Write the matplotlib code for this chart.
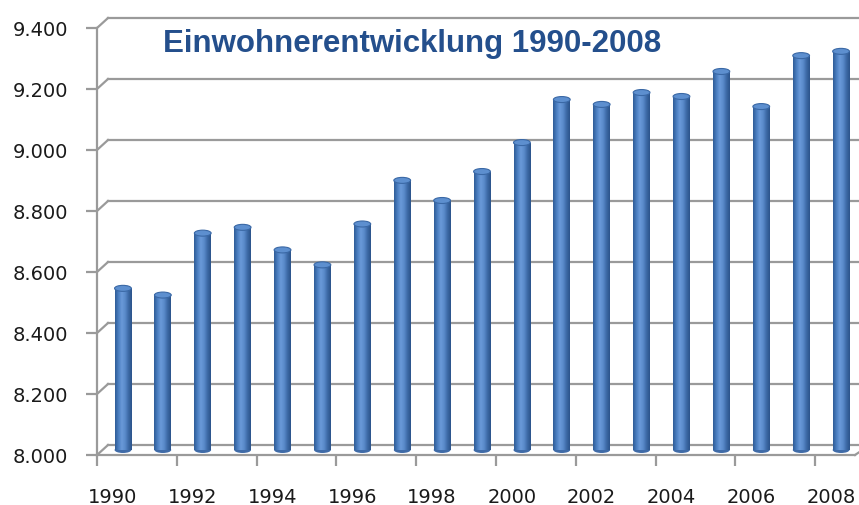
import matplotlib
matplotlib.use('Agg')
import matplotlib.pyplot as plt
import matplotlib.transforms as mtransforms
from matplotlib.colors import LinearSegmentedColormap
from matplotlib.patches import Ellipse
import numpy as np

years = list(range(1990, 2009))
einwohner = [8530, 8508, 8711, 8730, 8656, 8607, 8741, 8884, 8818, 8913,
             9008, 9149, 9133, 9172, 9159, 9241, 9126, 9293, 9307]
y_ticks = [8000, 8200, 8400, 8600, 8800, 9000, 9200, 9400]
title = 'Einwohnerentwicklung 1990-2008'

DPI = 100
fig = plt.figure(figsize=(8.59, 5.06), dpi=DPI)
ax = fig.add_axes([97 / 859, 50 / 506, 758 / 859, 427 / 506])

grid_col = '#9a9a9a'
x = np.arange(len(years))
ax.set_xlim(-0.5, len(years) - 0.5)
ax.set_ylim(8000, 9400)

# 3D look: back wall shifted up/right, bars at middle depth
back = ax.transData + mtransforms.ScaledTranslation(11 / DPI, 10 / DPI, fig.dpi_scale_trans)
mid = ax.transData + mtransforms.ScaledTranslation(6 / DPI, 5 / DPI, fig.dpi_scale_trans)

# back wall gridlines + diagonals to the left axis
for v in y_ticks:
    ax.plot([-0.5, 19.5], [v, v], color=grid_col, lw=1.6, transform=back, clip_on=False, zorder=1)
    p0 = ax.transData.transform((-0.5, v))
    p1 = back.transform((-0.5, v))
    ax.plot([p0[0], p1[0]], [p0[1], p1[1]], color=grid_col, lw=1.6,
            transform=None, clip_on=False, zorder=1)
# floor right edge
p0 = ax.transData.transform((18.5, 8000))
p1 = back.transform((18.5, 8000))
ax.plot([p0[0], p1[0] + 4], [p0[1], p1[1]], color=grid_col, lw=1.6, transform=None, clip_on=False)

# cylinder bars
cmap = LinearSegmentedColormap.from_list('cyl', ['#2f5c97', '#4a7ec0', '#6a9ad9', '#5a8bcb', '#3d6aa6', '#2b548b'])
grad = np.linspace(0, 1, 64).reshape(1, -1)
bw = 0.42
bars = ax.bar(x, [v - 8000 for v in einwohner], bw, bottom=8000, color='#4f81bd',
              transform=mid, zorder=3, clip_on=False)
# ellipse height in data units (~6 px)
eh = 6 * 1400 / 427
for rect, v in zip(bars, einwohner):
    xc = rect.get_x()
    im = ax.imshow(grad, extent=[xc, xc + bw, 8000, v], cmap=cmap, aspect='auto',
                   transform=mid, zorder=4, interpolation='bilinear')
    im.set_clip_path(rect)
    ax.add_patch(Ellipse((xc + bw / 2, v), bw, eh, transform=mid, facecolor='#5d8fcf',
                         edgecolor='#3a68a5', lw=0.8, zorder=5, clip_on=False))
    ax.add_patch(Ellipse((xc + bw / 2, 8000), bw, eh, transform=mid, facecolor='#3f6ba8',
                         edgecolor='none', zorder=2, clip_on=False))
ax.set_xlim(-0.5, len(years) - 0.5)
ax.set_ylim(8000, 9400)

for s in ['top', 'right']:
    ax.spines[s].set_visible(False)
for s in ['left', 'bottom']:
    ax.spines[s].set_color(grid_col)
    ax.spines[s].set_linewidth(1.6)

ax.set_yticks(y_ticks)
ax.set_yticklabels([f'{v / 1000:.3f}' for v in y_ticks], fontsize=14, color='#1a1a1a')
ax.tick_params(axis='y', length=8, width=1.6, color=grid_col, pad=13)

ax.set_xticks(x[::2] - 0.1)
ax.set_xticklabels([str(y) for y in years[::2]], fontsize=14, color='#1a1a1a')
ax.set_xticks(np.arange(-0.5, len(years), 2), minor=True)
ax.tick_params(axis='x', which='major', length=0, pad=23)
ax.tick_params(axis='x', which='minor', length=8, width=1.6, color=grid_col)

fig.text(163 / 859, 1 - 44 / 506, title, ha='left', va='center', fontsize=22.5,
         fontweight='bold', color='#244f8c', family='Liberation Sans')

fig.savefig('out.png', dpi=DPI)
